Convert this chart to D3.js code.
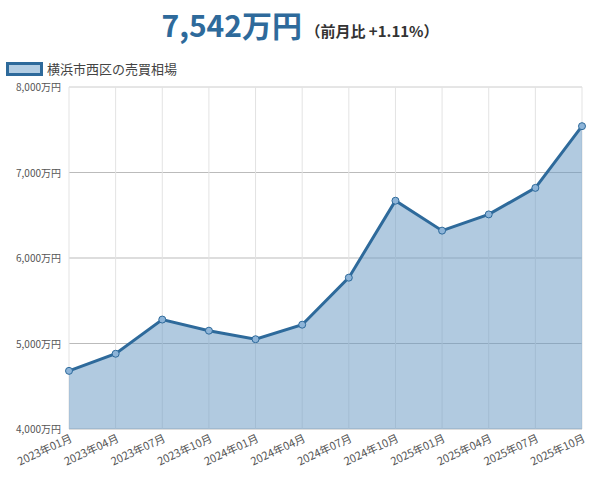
<!DOCTYPE html>
<html><head><meta charset="utf-8">
<script src="https://cdn.jsdelivr.net/npm/d3@7"></script>
<style>
body{margin:0;background:#fff;font-family:"Noto Sans CJK JP","Noto Sans",sans-serif;}
</style></head>
<body><div id="chart"></div>
<script>
var months=['2023年01月','2023年04月','2023年07月','2023年10月','2024年01月','2024年04月','2024年07月','2024年10月','2025年01月','2025年04月','2025年07月','2025年10月'];
var prices=[4680,4880,5280,5150,5050,5220,5770,6670,6320,6510,6820,7542];
var yTicks=[4000,5000,6000,7000,8000];

var W=599,H=489,padL=69,padR=582,padT=87,padB=429;
var svg=d3.select('#chart').append('svg').attr('width',W).attr('height',H);

var x=d3.scalePoint().domain(months).range([padL,padR]);
var y=d3.scaleLinear().domain([4000,8000]).range([padB,padT]);
var fmt=d3.format(',');

// title
var t=svg.append('text').attr('x',300).attr('y',37).attr('text-anchor','middle');
t.append('tspan').text('7,542万円').style('font-size','30px').style('font-weight','bold').style('fill','#2e6a9b');
t.append('tspan').text(' （前月比 +1.11%）').style('font-size','15px').style('font-weight','bold').style('fill','#333');

// legend
svg.append('rect').attr('x',7.5).attr('y',63.5).attr('width',34).attr('height',11)
  .style('fill','#b3cde3').style('stroke','#2e6a9b').style('stroke-width',3);
svg.append('text').attr('x',47).attr('y',74).text('横浜市西区の売買相場').style('font-size','13px').style('fill','#444');

// grid
svg.append('g').selectAll('line').data(yTicks).enter().append('line')
  .attr('x1',padL).attr('x2',padR).attr('y1',function(d){return y(d);}).attr('y2',function(d){return y(d);})
  .style('stroke',function(d){return d==8000?'#ccc':'#bbb';});
svg.append('g').selectAll('line').data(months).enter().append('line')
  .attr('x1',function(d){return x(d);}).attr('x2',function(d){return x(d);}).attr('y1',padT).attr('y2',padB)
  .style('stroke','#e3e3e3');

// area + line
var area=d3.area().x(function(d,i){return x(months[i]);}).y0(padB).y1(function(d){return y(d);});
svg.append('path').datum(prices).attr('d',area).style('fill','#6a9ac4').style('fill-opacity',0.52);
var line=d3.line().x(function(d,i){return x(months[i]);}).y(function(d){return y(d);});
svg.append('path').datum(prices).attr('d',line).style('fill','none').style('stroke','#2e6a9b').style('stroke-width',3);
svg.append('g').selectAll('circle').data(prices).enter().append('circle')
  .attr('cx',function(d,i){return x(months[i]);}).attr('cy',function(d){return y(d);}).attr('r',3.5)
  .style('fill','#8db4d8').style('stroke','#2e6a9b').style('stroke-width',1);

// y labels
svg.append('g').selectAll('text').data(yTicks).enter().append('text')
  .attr('x',61).attr('y',function(d){return y(d)+4;}).attr('text-anchor','end')
  .text(function(d){return fmt(d)+'万円';}).style('font-size','10px').style('fill','#555');

// x labels
svg.append('g').selectAll('text').data(months).enter().append('text')
  .attr('text-anchor','end')
  .attr('transform',function(d){return 'translate('+(x(d)+4)+','+(padB+12)+') rotate(-25)';})
  .text(function(d){return d;}).style('font-size','11px').style('fill','#555');
</script></body></html>
